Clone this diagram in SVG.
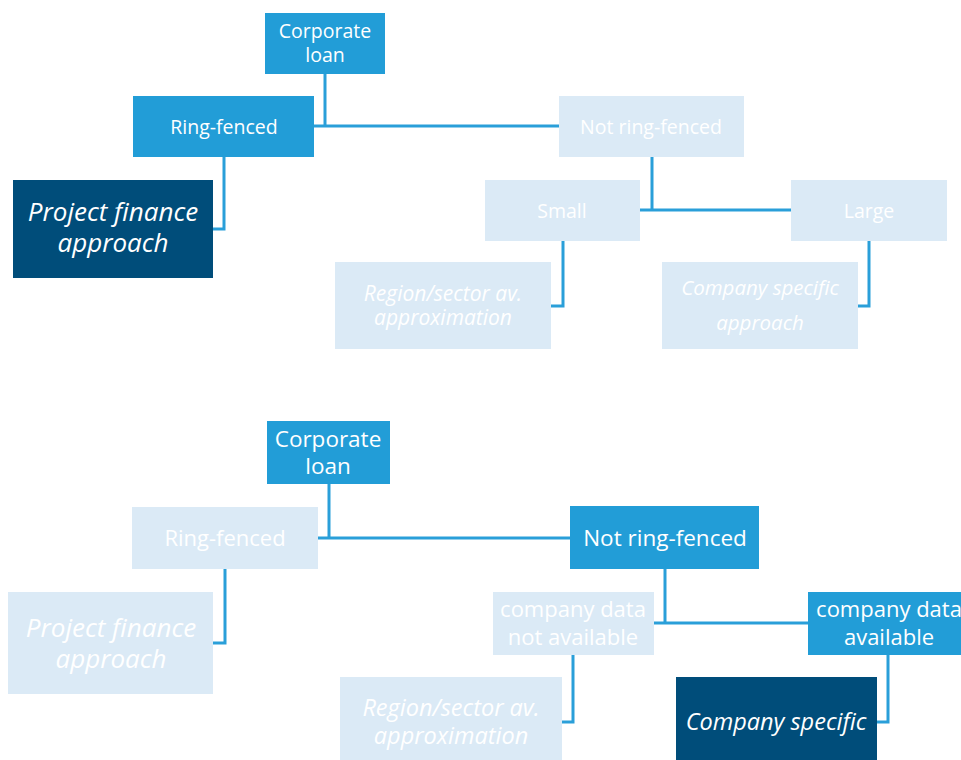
<svg xmlns="http://www.w3.org/2000/svg" width="961" height="760" viewBox="0 0 961 760">
<style>
.mid{fill:#229dd7}
.dark{fill:#004d7a}
.light{fill:#dbeaf6}
text{font-family:"Open Sans","Noto Sans",sans-serif;fill:#ffffff;text-anchor:middle}
.it{font-style:italic}
.conn{fill:none;stroke:#2a9fd9;stroke-width:3}
</style>
<rect width="961" height="760" fill="#ffffff"/>
<g id="connectors" class="conn">
<path d="M325 74V126M314 126H559"/>
<path d="M224 157V229H213"/>
<path d="M652 157V210M640 210H791"/>
<path d="M563 241V306H551"/>
<path d="M869 241V306H858"/>
<path d="M329 484V538M318 538H571"/>
<path d="M225 569V643H213"/>
<path d="M665 569V623M654 623H808"/>
<path d="M573 655V722H562"/>
<path d="M888 655V722H877"/>
</g>
<g id="t-corporate">
<rect class="mid" x="265" y="13" width="120" height="61"/>
<text x="325" y="38" font-size="19.5">Corporate</text>
<text x="325" y="62" font-size="19.5">loan</text>
</g>
<g id="t-ringfenced">
<rect class="mid" x="133" y="96" width="181" height="61"/>
<text x="224" y="134" font-size="19.5">Ring-fenced</text>
</g>
<g id="t-project">
<rect class="dark" x="13" y="180" width="200" height="98"/>
<text class="it" x="113" y="221" font-size="26">Project finance</text>
<text class="it" x="113" y="252" font-size="26">approach</text>
</g>
<g id="t-notring">
<rect class="light" x="559" y="96" width="185" height="61"/>
<text x="651" y="134" font-size="19.5">Not ring-fenced</text>
</g>
<g id="t-small">
<rect class="light" x="485" y="180" width="155" height="61"/>
<text x="562" y="218" font-size="19.5">Small</text>
</g>
<g id="t-large">
<rect class="light" x="791" y="180" width="156" height="61"/>
<text x="869" y="218" font-size="19.5">Large</text>
</g>
<g id="t-region">
<rect class="light" x="335" y="262" width="216" height="87"/>
<text class="it" x="443" y="301" font-size="21">Region/sector av.</text>
<text class="it" x="443" y="325" font-size="21">approximation</text>
</g>
<g id="t-company">
<rect class="light" x="662" y="262" width="196" height="87"/>
<text class="it" x="760" y="295" font-size="20.5">Company specific</text>
<text class="it" x="760" y="330" font-size="20.5">approach</text>
</g>
<g id="b-corporate">
<rect class="mid" x="267" y="421" width="123" height="63"/>
<text x="328" y="447" font-size="22.5">Corporate</text>
<text x="328" y="474" font-size="22.5">loan</text>
</g>
<g id="b-ringfenced">
<rect class="light" x="132" y="507" width="186" height="62"/>
<text x="225" y="546" font-size="22">Ring-fenced</text>
</g>
<g id="b-project">
<rect class="light" x="8" y="592" width="205" height="102"/>
<text class="it" x="111" y="637" font-size="26">Project finance</text>
<text class="it" x="111" y="668" font-size="26">approach</text>
</g>
<g id="b-notring">
<rect class="mid" x="570" y="506" width="189" height="63"/>
<text x="665" y="546" font-size="22.5">Not ring-fenced</text>
</g>
<g id="b-notavail">
<rect class="light" x="493" y="592" width="161" height="63"/>
<text x="573" y="617" font-size="22">company data</text>
<text x="573" y="645" font-size="22">not available</text>
</g>
<g id="b-avail">
<rect class="mid" x="808" y="592" width="162" height="63"/>
<text x="889" y="617" font-size="22">company data</text>
<text x="889" y="645" font-size="22">available</text>
</g>
<g id="b-region">
<rect class="light" x="340" y="677" width="222" height="90"/>
<text class="it" x="451" y="716" font-size="23.5">Region/sector av.</text>
<text class="it" x="451" y="744" font-size="23.5">approximation</text>
</g>
<g id="b-company">
<rect class="dark" x="676" y="677" width="201" height="90"/>
<text class="it" x="776" y="730" font-size="23.5">Company specific</text>
</g>
</svg>
